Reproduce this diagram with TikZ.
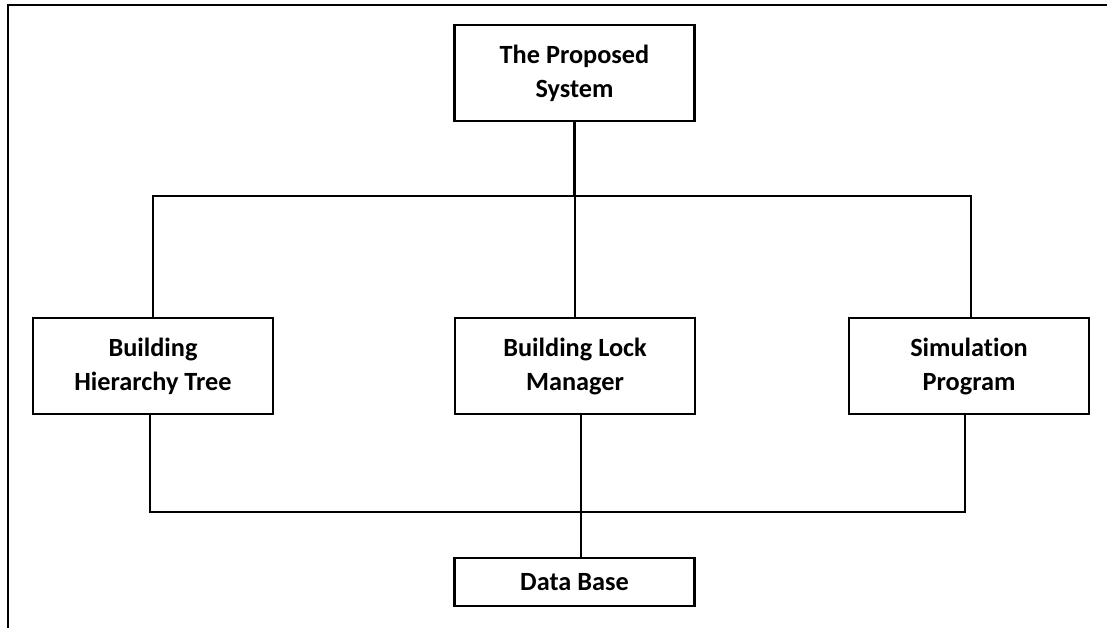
\documentclass[tikz,border=0pt]{standalone}
\usepackage{fontspec}
\setmainfont{Carlito}[Ligatures=NoCommon]
\begin{document}
\begin{tikzpicture}[x=1pt,y=-1pt,
  blockbox/.style={draw, line width=2.2pt, minimum width=240pt, minimum height=96pt,
    align=center, inner sep=0pt, font=\fontsize{26.3}{34}\selectfont\bfseries},
  link/.style={line width=2.2pt},
  frameline/.style={line width=2.8pt}]
\useasboundingbox (0,0) rectangle (1107,628);
% outer frame (top and left sides)
\draw[frameline] (8,628) -- (8,5) -- (1107,5);

% blocks
\node[blockbox] (top) at (574.5,73) {The Proposed\\System};
\node[blockbox] (left) at (153,366) {Building\\Hierarchy Tree};
\node[blockbox] (mid) at (575,366) {Building Lock\\Manager};
\node[blockbox] (right) at (969,366) {Simulation\\Program};
\node[blockbox, minimum height=48pt] (db) at (574.5,582) {Data Base};

% upper bus
\coordinate (tbL) at (153,196);
\coordinate (tbR) at (971,196);
\draw[link] (top.south) -- (top.south |- tbL);
\draw[link] (left.north) -- (tbL) -- (tbR) -- ([xshift=2]right.north);
\draw[link] (mid.north) -- (mid.north |- tbL);

% lower bus
\coordinate (bbL) at (150,512);
\coordinate (bbR) at (965,512);
\draw[link] ([xshift=-3]left.south) -- (bbL) -- (bbR) -- ([xshift=-4]right.south);
\draw[link] ([xshift=6]mid.south) -- ([xshift=6]mid.south |- db.north);
\end{tikzpicture}
\end{document}
